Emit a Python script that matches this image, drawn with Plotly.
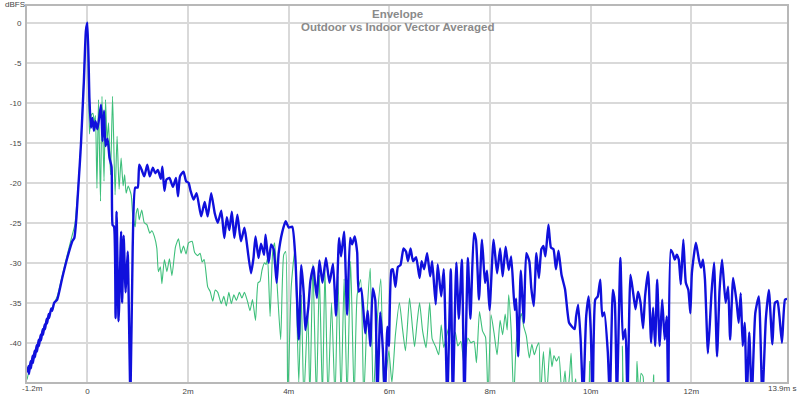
import plotly.graph_objects as go

# ---- data (time in ms, level in dBFS) ----
blue_t = [-1.2, -1.17, -1.16, -1.13, -1.12, -1.09, -1.08, -1.05, -1.04, -1.01, -1.0, -0.97, -0.96,
          -0.93, -0.92, -0.89, -0.88, -0.85, -0.84, -0.81, -0.80, -0.77, -0.76, -0.72, -0.70, -0.66,
          -0.6, -0.5, -0.4, -0.3, -0.26, -0.22, -0.19, -0.15, -0.125, -0.07, -0.03, 0.0,
          0.04, 0.07, 0.10, 0.13, 0.16, 0.20, 0.27, 0.30, 0.33, 0.36, 0.40, 0.44, 0.48, 0.50, 0.53,
          0.56, 0.58, 0.62, 0.67, 0.69, 0.72, 0.76, 0.80, 0.855, 0.90, 0.95, 1.00, 1.03, 1.08, 1.13,
          1.19, 1.24, 1.30, 1.35, 1.40, 1.46, 1.49, 1.53, 1.57, 1.63, 1.70, 1.76, 1.80, 1.84, 1.91,
          1.96, 2.01, 2.05, 2.11, 2.17, 2.26, 2.33, 2.39, 2.46, 2.53, 2.59, 2.66, 2.72, 2.77, 2.82,
          2.87, 2.92, 2.98, 3.05, 3.12, 3.16, 3.25, 3.30, 3.34, 3.40, 3.45, 3.51, 3.54, 3.60, 3.65,
          3.70, 3.76, 3.80, 3.87, 3.94, 4.00, 4.07, 4.13, 4.20, 4.25, 4.30, 4.33, 4.39, 4.43, 4.49,
          4.52, 4.56, 4.61, 4.67, 4.74, 4.81, 4.88, 4.94, 5.00, 5.04, 5.10, 5.16, 5.22, 5.26, 5.31,
          5.36, 5.39, 5.44, 5.52, 5.57, 5.62, 5.67, 5.72, 5.76, 5.82, 5.87, 5.91, 5.96, 5.99, 6.04,
          6.07, 6.12, 6.17, 6.22, 6.28, 6.33, 6.37, 6.42, 6.47, 6.53, 6.60, 6.64, 6.69, 6.75, 6.81,
          6.85, 6.92, 6.96, 7.03, 7.08, 7.15, 7.22, 7.26, 7.33, 7.38, 7.44, 7.49, 7.56, 7.61, 7.68,
          7.72, 7.78, 7.84, 7.90, 7.94, 7.99, 8.07, 8.14, 8.20, 8.25, 8.31, 8.37, 8.42, 8.49, 8.52,
          8.56, 8.61, 8.67, 8.72, 8.78, 8.82, 8.87, 8.92, 8.97, 9.02, 9.06, 9.10, 9.16, 9.21, 9.26,
          9.31, 9.36, 9.42, 9.49, 9.57, 9.63, 9.68, 9.71, 9.75, 9.80, 9.85, 9.91, 9.96, 10.00, 10.04,
          10.09, 10.14, 10.19, 10.23, 10.27, 10.34, 10.38, 10.44, 10.48, 10.52, 10.59, 10.64, 10.69,
          10.73, 10.79, 10.84, 10.89, 10.94, 10.99, 11.04, 11.08, 11.14, 11.20, 11.24, 11.28, 11.32,
          11.37, 11.42, 11.47, 11.51, 11.54, 11.59, 11.63, 11.67, 11.71, 11.75, 11.79, 11.84, 11.89,
          11.94, 11.98, 12.01, 12.09, 12.15, 12.19, 12.23, 12.27, 12.33, 12.40, 12.45, 12.51, 12.56,
          12.61, 12.68, 12.73, 12.77, 12.83, 12.90, 12.94, 12.98, 13.02, 13.06, 13.10, 13.15, 13.20,
          13.27, 13.34, 13.41, 13.48, 13.54, 13.61, 13.66, 13.71, 13.75, 13.80, 13.86, 13.9]
blue_db = [-43.7, -42.9, -43.9, -42.3, -43.2, -41.6, -42.5, -41.0, -41.8, -40.3, -41.1, -39.6, -40.4,
           -39.0, -39.7, -38.3, -39.0, -37.7, -38.3, -37.0, -37.6, -36.4, -36.9, -35.7, -36.0, -35.0,
           -34.6, -31.9, -29.4, -27.3, -26.9, -24.5, -21.5, -17.5, -14.8, -7.3, -1.0, 0.0,
           -9.4, -13.1, -11.9, -13.5, -12.3, -13.3, -10.25, -14.8, -11.0, -15.4, -14.5, -16.9, -18.0,
           -25.25, -25.5, -36.9, -23.6, -37.3, -26.1, -35.0, -26.6, -33.7, -28.6, -47.0, -28.0, -20.6,
           -20.6, -17.75, -18.4, -19.2, -17.75, -19.2, -18.1, -18.8, -18.4, -19.5, -18.0, -21.0, -19.6,
           -19.4, -20.5, -19.4, -21.7, -19.2, -18.6, -19.8, -20.0, -21.0, -22.1, -21.3, -24.2, -22.4,
           -24.2, -21.3, -23.8, -25.0, -23.5, -26.9, -24.3, -25.9, -23.6, -26.9, -24.0, -27.3, -25.6,
           -27.2, -31.3, -29.4, -26.7, -29.4, -27.6, -29.0, -26.5, -30.0, -27.7, -28.3, -32.5, -28.8,
           -26.2, -24.8, -25.6, -25.5, -29.2, -39.6, -30.3, -34.0, -38.4, -35.5, -32.3, -30.5, -32.3,
           -34.4, -29.7, -32.5, -29.4, -32.5, -30.1, -36.6, -26.9, -29.2, -26.1, -36.5, -26.9, -27.7,
           -26.7, -28.7, -33.6, -33.2, -38.8, -36.0, -40.4, -33.2, -34.7, -47.0, -36.2, -40.8, -47.0,
           -38.0, -40.4, -30.9, -30.8, -33.0, -30.5, -30.3, -28.2, -28.6, -29.8, -28.2, -29.8, -29.3,
           -31.9, -29.8, -30.8, -28.8, -31.7, -29.8, -35.2, -30.2, -34.2, -30.8, -47.0, -30.8, -47.0,
           -30.0, -37.0, -29.6, -47.0, -29.4, -37.0, -26.3, -27.1, -34.6, -27.1, -32.5, -31.0, -35.9,
           -27.1, -31.3, -28.2, -31.7, -28.0, -30.9, -29.2, -35.9, -34.5, -41.7, -31.0, -37.5, -28.8,
           -29.8, -33.2, -35.4, -28.8, -31.9, -28.3, -27.9, -29.2, -25.25, -28.1, -28.3, -30.8, -28.5,
           -31.5, -33.3, -37.5, -38.0, -38.3, -36.7, -35.25, -39.6, -47.0, -36.7, -34.2, -38.3, -47.0,
           -34.6, -34.2, -32.1, -36.7, -36.2, -41.2, -47.0, -33.4, -35.0, -47.0, -29.4, -39.6, -38.3,
           -47.0, -31.5, -33.6, -35.8, -33.6, -35.0, -38.2, -34.2, -31.1, -40.0, -35.6, -40.4, -32.1,
           -40.4, -34.6, -39.6, -36.7, -47.0, -28.4, -28.8, -29.6, -29.0, -29.6, -32.7, -27.1, -32.5,
           -33.4, -36.3, -31.3, -27.5, -29.6, -30.6, -29.6, -32.1, -41.3, -33.8, -30.0, -41.7, -33.4,
           -29.6, -35.0, -33.0, -39.6, -31.9, -35.0, -37.5, -33.8, -40.4, -37.5, -47.0, -38.7, -47.0,
           -36.3, -34.2, -47.0, -37.0, -33.4, -40.2, -35.0, -34.8, -36.7, -40.0, -34.6, -34.5]

green_t = [-1.2, -1.15, -1.1, -1.0, -0.9, -0.8, -0.7, -0.6, -0.5, -0.4, -0.3, -0.25, -0.2, -0.15,
           -0.1, -0.05, 0.0, 0.04, 0.08, 0.11, 0.14, 0.16, 0.19, 0.22, 0.26, 0.29, 0.33, 0.36, 0.39,
           0.42, 0.46, 0.50, 0.55, 0.59, 0.63, 0.67, 0.71, 0.74, 0.77, 0.81, 0.87, 0.90, 0.95, 0.97,
           1.00, 1.03, 1.08, 1.13, 1.18, 1.24, 1.28, 1.33, 1.38, 1.41, 1.45, 1.48, 1.53, 1.58, 1.63,
           1.68, 1.75, 1.81, 1.86, 1.91, 1.96, 2.01, 2.08, 2.13, 2.19, 2.24, 2.28, 2.32, 2.39, 2.44,
           2.49, 2.54, 2.59, 2.66, 2.71, 2.76, 2.81, 2.86, 2.91, 2.96, 3.02, 3.07, 3.12, 3.18, 3.23,
           3.28, 3.34, 3.39, 3.43, 3.47, 3.52, 3.55, 3.58, 3.63, 3.68, 3.72, 3.77, 3.84, 3.90, 3.94,
           3.98, 4.05, 4.12, 4.20, 4.25, 4.30, 4.38, 4.42, 4.48, 4.55, 4.61, 4.67, 4.72, 4.78, 4.85,
           4.92, 4.98, 5.04, 5.10, 5.16, 5.23, 5.30, 5.36, 5.43, 5.49, 5.56, 5.62, 5.68, 5.75, 5.83,
           5.89, 5.95, 5.99, 6.05, 6.12, 6.20, 6.26, 6.32, 6.40, 6.46, 6.50, 6.55, 6.60, 6.66, 6.73,
           6.80, 6.85, 6.92, 6.98, 7.03, 7.08, 7.13, 7.20, 7.26, 7.31, 7.36, 7.42, 7.49, 7.56, 7.62,
           7.68, 7.73, 7.79, 7.85, 7.91, 7.96, 8.02, 8.08, 8.14, 8.20, 8.25, 8.30, 8.34, 8.37, 8.42,
           8.47, 8.52, 8.57, 8.62, 8.67, 8.72, 8.78, 8.83, 8.88, 8.93, 8.97, 9.00, 9.06, 9.12, 9.19,
           9.23, 9.27, 9.32, 9.37, 9.43, 9.49, 9.53, 9.58, 9.61, 9.65, 9.70, 9.74, 9.94, 9.98, 10.02,
           10.59, 10.63, 10.68, 10.88, 10.92, 10.96, 11.00, 11.04, 11.08, 11.22, 11.25, 11.30, 13.9]
green_db = [-44.6, -43.3, -42.2, -40.8, -38.6, -37.2, -35.6, -34.2, -31.6, -29.0, -26.5, -25.3, -21.8,
            -17.5, -11.0, -4.0, 0.0, -13.9, -11.5, -11.3, -12.5, -11.6, -20.7, -9.6, -22.3, -9.2,
            -19.8, -9.6, -14.8, -12.5, -19.0, -9.2, -21.5, -14.2, -20.8, -16.9, -20.4, -19.0, -21.3,
            -20.4, -21.5, -24.0, -25.5, -23.8, -23.2, -24.6, -23.4, -25.0, -25.2, -26.3, -26.0, -26.7,
            -28.2, -31.1, -30.5, -32.6, -29.6, -31.1, -29.5, -31.6, -28.0, -27.0, -28.8, -27.9, -28.9,
            -27.5, -27.3, -28.7, -29.1, -28.8, -29.9, -29.6, -33.0, -33.6, -34.8, -33.4, -33.7, -35.1,
            -34.2, -35.4, -33.7, -35.1, -34.0, -34.7, -33.7, -34.4, -33.7, -34.8, -36.0, -34.6, -37.2,
            -32.5, -32.3, -30.9, -30.0, -30.2, -29.4, -36.7, -28.75, -27.5, -32.8, -39.6, -29.0, -28.6,
            -47.0, -33.0, -28.5, -45.0, -34.0, -47.0, -36.0, -47.0, -30.2, -47.0, -31.5, -47.0, -30.7,
            -47.0, -35.0, -47.0, -31.7, -47.0, -32.0, -47.0, -29.8, -47.0, -34.0, -32.1, -47.0, -36.0,
            -30.7, -47.0, -38.0, -32.0, -47.0, -43.0, -41.0, -45.0, -39.0, -35.0, -38.2, -41.0, -34.4,
            -38.2, -40.5, -37.5, -35.0, -38.5, -40.6, -35.0, -39.5, -40.5, -41.5, -37.75, -40.6, -39.3,
            -37.7, -39.5, -38.7, -40.4, -39.8, -43.0, -39.4, -40.0, -39.8, -42.5, -36.1, -38.5, -39.3,
            -47.0, -36.5, -38.8, -41.5, -37.2, -39.0, -36.4, -38.4, -34.0, -38.5, -47.0, -40.0, -37.8,
            -36.3, -38.0, -39.1, -41.9, -40.2, -41.5, -40.5, -40.0, -47.0, -41.1, -47.0, -40.6, -43.0,
            -41.6, -42.3, -41.7, -47.0, -43.5, -47.0, -44.0, -41.3, -47.0, -44.5, -47.0, -47.0, -42.3,
            -47.0, -47.0, -40.4, -47.0, -47.0, -42.3, -47.0, -43.8, -44.2, -47.0, -47.0, -44.0, -47.0,
            -47.0]

x_tick_vals = [0, 2, 4, 6, 8, 10, 12]
x_tick_text = ["0", "2m", "4m", "6m", "8m", "10m", "12m"]
y_tick_vals = [0, -5, -10, -15, -20, -25, -30, -35, -40]
y_tick_text = ["0", "-5", "-10", "-15", "-20", "-25", "-30", "-35", "-40"]

TICK_FONT = dict(family="Liberation Sans, Arial, sans-serif", size=8, color="#444444")
TITLE_FONT = dict(family="Liberation Sans, Arial, sans-serif", size=11.5, color="#8a8a8a")

fig = go.Figure()
fig.add_trace(go.Scatter(x=green_t, y=green_db, mode="lines",
                         line=dict(color="#3dbf7a", width=1.1, shape="spline", smoothing=0.5),
                         showlegend=False, hoverinfo="skip"))
fig.add_trace(go.Scatter(x=blue_t, y=blue_db, mode="lines",
                         line=dict(color="#1010dc", width=2.4, shape="spline", smoothing=0.5),
                         showlegend=False, hoverinfo="skip"))

fig.update_layout(
    width=800, height=395,
    margin=dict(l=27, r=13, t=6, b=13, autoexpand=False),
    paper_bgcolor="white", plot_bgcolor="white",
    xaxis=dict(range=[-1.2, 13.9], tickvals=x_tick_vals, ticktext=x_tick_text,
               showgrid=True, gridcolor="#d9d9d9", gridwidth=1.5, zeroline=False,
               showline=True, linecolor="#b8b8b8", linewidth=2, mirror=True,
               ticks="", tickfont=TICK_FONT, ticklabelstandoff=0, automargin=False),
    yaxis=dict(range=[-44.9, 2.1], tickvals=y_tick_vals, ticktext=y_tick_text,
               showgrid=True, gridcolor="#d9d9d9", gridwidth=1.5, zeroline=False,
               showline=True, linecolor="#b8b8b8", linewidth=2, mirror=True,
               ticks="", tickfont=TICK_FONT, ticklabelstandoff=2, automargin=False),
    annotations=[
        dict(text="<b>Envelope</b>", xref="paper", yref="paper", x=0.487, y=1,
             xanchor="center", yanchor="middle", yshift=-8, showarrow=False, font=TITLE_FONT),
        dict(text="<b>Outdoor vs Indoor Vector Averaged</b>", xref="paper", yref="paper",
             x=0.487, y=1, xanchor="center", yanchor="middle", yshift=-21, showarrow=False,
             font=TITLE_FONT),
        dict(text="dBFS", xref="paper", yref="paper", x=0, y=1, xanchor="right",
             yanchor="middle", yshift=2, xshift=0, showarrow=False, font=TICK_FONT),
        dict(text="-1.2m", xref="x", yref="paper", x=-1.2, y=0, xanchor="center",
             yanchor="top", xshift=5, yshift=0, showarrow=False, font=TICK_FONT),
        dict(text="13.9m s", xref="x", yref="paper", x=13.9, y=0, xanchor="right",
             yanchor="top", xshift=11, yshift=0, showarrow=False, font=TICK_FONT),
    ],
)

fig.write_html("out.html", config={"displayModeBar": False},
               post_script="document.body.style.margin='0px';document.body.style.overflow='hidden';")
